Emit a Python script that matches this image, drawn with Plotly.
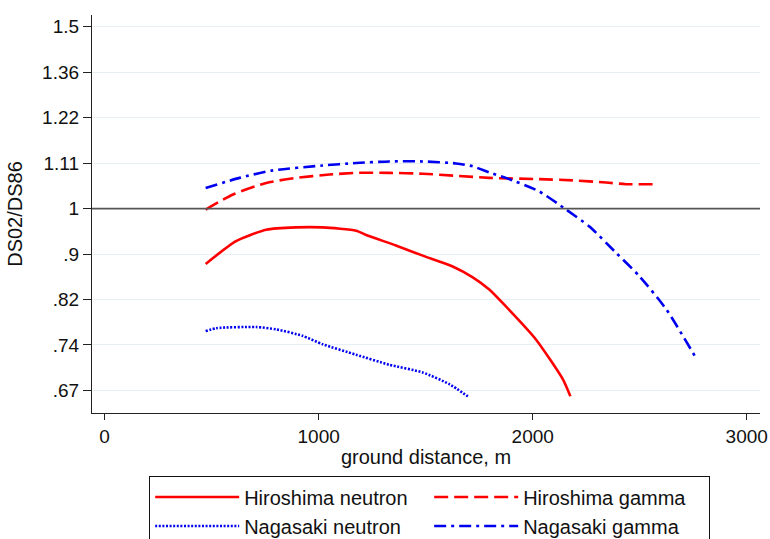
import math
import plotly.graph_objects as go

# ---- data ----
hn_x = [472, 614, 755, 894, 1019, 1175, 1222, 1361, 1502, 1626, 1720, 1797, 1875, 2015, 2140, 2176]
hn_y = [0.884, 0.930, 0.954, 0.959, 0.959, 0.952, 0.943, 0.921, 0.898, 0.879, 0.858, 0.835, 0.804, 0.747, 0.684, 0.658]

hg_x = [472, 600, 755, 894, 1050, 1175, 1330, 1486, 1642, 1797, 2031, 2187, 2343, 2436, 2577]
hg_y = [0.998, 1.032, 1.059, 1.071, 1.079, 1.083, 1.083, 1.081, 1.076, 1.071, 1.068, 1.065, 1.060, 1.056, 1.056]

nn_x = [472, 522, 708, 802, 925, 1019, 1175, 1330, 1486, 1611, 1697]
nn_y = [0.761, 0.766, 0.768, 0.764, 0.753, 0.739, 0.722, 0.706, 0.694, 0.676, 0.658]

ng_x = [472, 630, 786, 1019, 1175, 1330, 1486, 1642, 1720, 1797, 1875, 2031, 2156, 2265, 2390, 2499, 2624, 2766]
ng_y = [1.047, 1.071, 1.089, 1.101, 1.107, 1.111, 1.111, 1.106, 1.099, 1.084, 1.071, 1.039, 0.998, 0.961, 0.906, 0.860, 0.799, 0.715]

y_tickvals = [0.6667, 0.7379, 0.8165, 0.9036, 1.0, 1.1067, 1.2247, 1.3554, 1.5]
y_ticktext = [".67", ".74", ".82", ".9", "1", "1.11", "1.22", "1.36", "1.5"]
x_tickvals = [0, 1000, 2000, 3000]
x_ticktext = ["0", "1000", "2000", "3000"]

FONT = "Liberation Sans, Arial, sans-serif"
RED = "#ff0000"
BLUE = "#0000f0"
LW = 2.6

fig = go.Figure()
fig.add_trace(go.Scatter(x=hn_x, y=hn_y, mode="lines", name="Hiroshima neutron",
                         line=dict(color=RED, width=LW, shape="spline", smoothing=0.6)))
fig.add_trace(go.Scatter(x=hg_x, y=hg_y, mode="lines", name="Hiroshima gamma",
                         line=dict(color=RED, width=LW, dash="14px,6px", shape="spline", smoothing=0.6)))
fig.add_trace(go.Scatter(x=nn_x, y=nn_y, mode="lines", name="Nagasaki neutron",
                         line=dict(color=BLUE, width=LW, dash="2px,1.6px", shape="spline", smoothing=0.6)))
fig.add_trace(go.Scatter(x=ng_x, y=ng_y, mode="lines", name="Nagasaki gamma",
                         line=dict(color=BLUE, width=LW, dash="12px,5px,3px,5px", shape="spline", smoothing=0.6)))

fig.add_hline(y=1, line=dict(color="#555555", width=1.6), layer="above")

fig.update_layout(
    width=770, height=539,
    margin=dict(l=92, r=10, t=15, b=126, autoexpand=False),
    paper_bgcolor="white", plot_bgcolor="white",
    font=dict(family=FONT, size=19, color="#111111"),
    showlegend=True,
    legend=dict(orientation="h", x=0.0853, y=-0.159, xanchor="left", yanchor="top",
                bordercolor="#111111", borderwidth=1.2, bgcolor="white",
                itemwidth=84, entrywidth=180, entrywidthmode="pixels",
                font=dict(family=FONT, size=20, color="#111111"),
                traceorder="normal", tracegroupgap=0),
    xaxis=dict(range=[-59, 3062], tickvals=x_tickvals, ticktext=x_ticktext,
               showgrid=False, zeroline=False, showline=True, linecolor="#222222", linewidth=1.3,
               ticks="outside", ticklen=6, tickcolor="#222222", tickwidth=1.3,
               tickfont=dict(size=19),
               title=dict(text="ground distance, m", font=dict(size=20), standoff=4)),
    yaxis=dict(type="log", range=[math.log10(0.634), math.log10(1.54)],
               tickvals=y_tickvals, ticktext=y_ticktext,
               showgrid=True, gridcolor="#e6eff2", gridwidth=1,
               zeroline=False, showline=True, linecolor="#222222", linewidth=1.3,
               ticks="outside", ticklen=8, tickcolor="#222222", tickwidth=1.3,
               tickfont=dict(size=19),
               title=dict(text="DS02/DS86", font=dict(size=20), standoff=14)),
)

# remove the browser's default page margin so the 770x539 figure fills the window exactly
fig.write_html("out.html",
               config={"displayModeBar": False},
               post_script="document.body.style.margin='0';document.body.style.overflow='hidden';")
